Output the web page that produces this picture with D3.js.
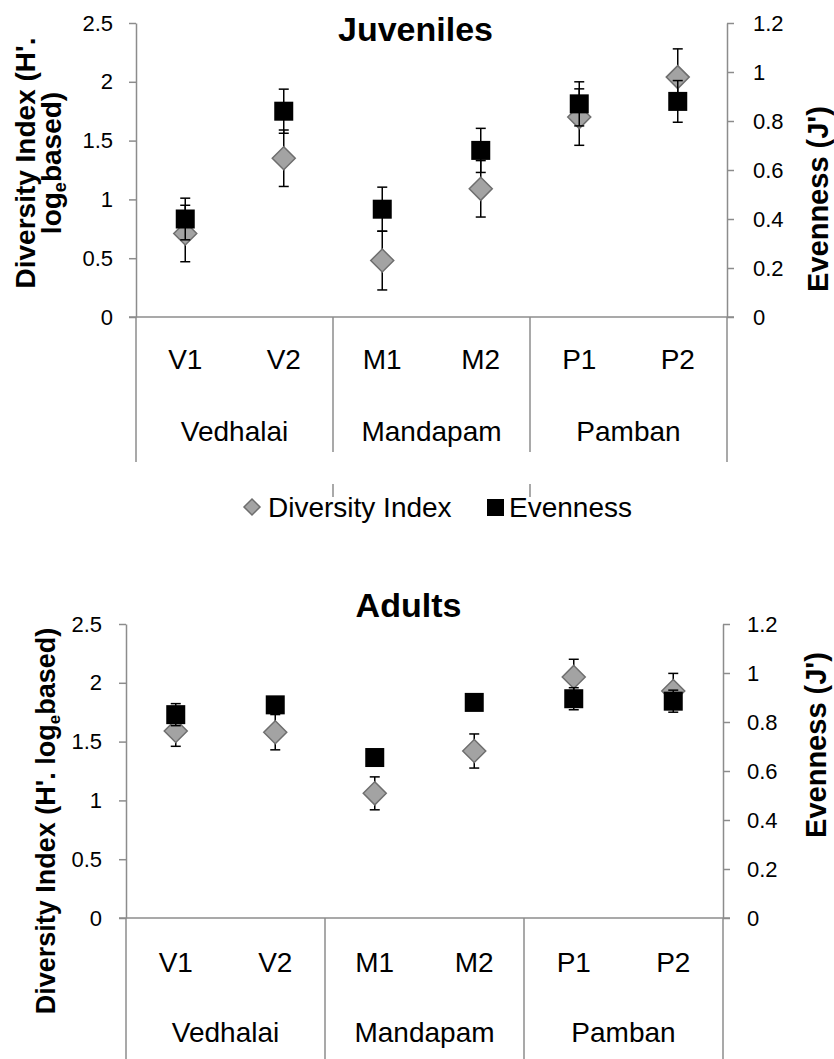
<!DOCTYPE html>
<html>
<head>
<meta charset="utf-8">
<script src="https://cdn.jsdelivr.net/npm/d3@7"></script>
<style>
  body { margin: 0; background: #fff; }
  svg { display: block; }
  text { font-family: "Liberation Sans", Arial, sans-serif; fill: #000; }
</style>
</head>
<body>
<svg id="chart" width="834" height="1059"></svg>
<script>
// Sampling sites and the localities they belong to
const sites = ["V1", "V2", "M1", "M2", "P1", "P2"];
const groups = ["Vedhalai", "Mandapam", "Pamban"];

// Axis tick values
const diversityTicks = [0, 0.5, 1, 1.5, 2, 2.5];
const evennessTicks = [0, 0.2, 0.4, 0.6, 0.8, 1, 1.2];

// Juveniles: Shannon diversity (H') and evenness (J') with error bars
const juvDiversity    = [0.71, 1.35, 0.48, 1.09, 1.70, 2.04];
const juvDiversityErr = [0.24, 0.24, 0.25, 0.24, 0.24, 0.24];
const juvEvenness     = [0.40, 0.84, 0.44, 0.68, 0.87, 0.88];
const juvEvennessErr  = [0.085, 0.09, 0.09, 0.09, 0.09, 0.085];

// Adults
const adultDiversity    = [1.59, 1.58, 1.06, 1.42, 2.05, 1.93];
const adultDiversityErr = [0.13, 0.15, 0.14, 0.145, 0.15, 0.15];
const adultEvenness     = [0.83, 0.87, 0.655, 0.88, 0.895, 0.885];
const adultEvennessErr  = [0.045, 0.03, 0.02, 0.03, 0.045, 0.045];

const legendItems = ["Diversity Index", "Evenness"];

const AXIS = "#8c8c8c";
const DIAMOND_FILL = "#a3a3a3";
const DIAMOND_STROKE = "#6e6e6e";

const panels = [
  {
    title: "Juveniles",
    div: juvDiversity, divErr: juvDiversityErr,
    even: juvEvenness, evenErr: juvEvennessErr,
    left: 136, right: 727, top: 23, bottom: 317,
    titleY: 41,
    siteY: 369, groupY: 441,
    outerEnd: 462, innerEnd: 452,
    yTitle: { x: 35, y: 163, lines: 2 },
    rTitle: { x: 828, y: 199 },
    leftPad: 16, rightPad: 19,
    legend: true
  },
  {
    title: "Adults",
    div: adultDiversity, divErr: adultDiversityErr,
    even: adultEvenness, evenErr: adultEvennessErr,
    left: 126, right: 723, top: 624, bottom: 918,
    titleY: 617,
    siteY: 972, groupY: 1042,
    outerEnd: 1059, innerEnd: 1059,
    yTitle: { x: 55, y: 821, lines: 1 },
    rTitle: { x: 826, y: 745 },
    leftPad: 17, rightPad: 17,
    legend: false
  }
];

const svg = d3.select("#chart");

function diamondPath(r) {
  return `M0,${-r}L${r},0L0,${r}L${-r},0Z`;
}

panels.forEach(p => {
  const g = svg.append("g");

  const x = d3.scaleBand().domain(sites).range([p.left, p.right]).paddingInner(0).paddingOuter(0);
  const groupX = d3.scaleBand().domain(groups).range([p.left, p.right]);
  const yDiv = d3.scaleLinear().domain([0, 2.5]).range([p.bottom, p.top]);
  const yEven = d3.scaleLinear().domain([0, 1.2]).range([p.bottom, p.top]);

  // Left axis (diversity)
  const la = g.append("g")
    .attr("transform", `translate(${p.left},0)`)
    .call(d3.axisLeft(yDiv).tickValues(diversityTicks).tickSize(7).tickSizeOuter(0)
      .tickPadding(p.leftPad).tickFormat(d3.format("")));
  // Right axis (evenness)
  const ra = g.append("g")
    .attr("transform", `translate(${p.right},0)`)
    .call(d3.axisRight(yEven).tickValues(evennessTicks).tickSize(7).tickSizeOuter(0)
      .tickPadding(p.rightPad).tickFormat(d3.format("")));
  [la, ra].forEach(a => {
    a.selectAll("path.domain").attr("stroke", AXIS).attr("stroke-width", 1.5);
    a.selectAll(".tick line").attr("stroke", AXIS).attr("stroke-width", 1.5);
    a.selectAll(".tick text")
      .style("font-family", '"Liberation Sans", Arial, sans-serif')
      .style("font-size", "22px").attr("fill", "#000");
  });

  // Category axis baseline
  g.append("line")
    .attr("x1", p.left - 7).attr("x2", p.right + 7)
    .attr("y1", yDiv(0)).attr("y2", yDiv(0))
    .attr("stroke", AXIS).attr("stroke-width", 1.5);

  // Group separators below the baseline
  const seps = [p.left].concat(groups.map(gname => groupX(gname) + groupX.bandwidth()));
  seps.forEach((sx, i) => {
    const outer = (i === 0 || i === seps.length - 1);
    g.append("line")
      .attr("x1", sx).attr("x2", sx)
      .attr("y1", yDiv(0)).attr("y2", outer ? p.outerEnd : p.innerEnd)
      .attr("stroke", AXIS).attr("stroke-width", 1.5);
    if (!outer && p.legend) {
      g.append("line")
        .attr("x1", sx).attr("x2", sx)
        .attr("y1", 484).attr("y2", 497)
        .attr("stroke", AXIS).attr("stroke-width", 1.5);
    }
  });

  // Site labels and locality labels
  g.selectAll("text.site").data(sites).join("text")
    .attr("class", "site")
    .attr("x", d => x(d) + x.bandwidth() / 2)
    .attr("y", p.siteY)
    .attr("text-anchor", "middle")
    .style("font-size", "28px")
    .text(d => d);
  g.selectAll("text.grp").data(groups).join("text")
    .attr("class", "grp")
    .attr("x", d => groupX(d) + groupX.bandwidth() / 2)
    .attr("y", p.groupY)
    .attr("text-anchor", "middle")
    .style("font-size", "28px")
    .text(d => d);

  // Title
  g.append("text")
    .attr("x", (p.left + p.right) / 2 - 16)
    .attr("y", p.titleY)
    .attr("text-anchor", "middle")
    .style("font-size", "34px").style("font-weight", "bold")
    .text(p.title);

  // Left axis title
  const lt = g.append("g").attr("transform", `translate(${p.yTitle.x},${p.yTitle.y}) rotate(-90)`);
  if (p.yTitle.lines === 2) {
    lt.append("text").attr("text-anchor", "middle").attr("y", 0)
      .style("font-size", "28px").style("font-weight", "bold")
      .text("Diversity Index (H'.");
    const t2 = lt.append("text").attr("text-anchor", "middle").attr("y", 26)
      .style("font-size", "28px").style("font-weight", "bold");
    t2.append("tspan").text("log");
    t2.append("tspan").attr("dy", 5).style("font-size", "18px").text("e");
    t2.append("tspan").attr("dy", -5).text("based)");
  } else {
    const t = lt.append("text").attr("text-anchor", "middle").attr("y", 0)
      .style("font-size", "27px").style("font-weight", "bold");
    t.append("tspan").text("Diversity Index (H'. log");
    t.append("tspan").attr("dy", 5).style("font-size", "17px").text("e");
    t.append("tspan").attr("dy", -5).text("based)");
  }

  // Right axis title
  svg.append("g").attr("transform", `translate(${p.rTitle.x},${p.rTitle.y}) rotate(-90)`)
    .append("text").attr("text-anchor", "middle")
    .style("font-size", "29px").style("font-weight", "bold")
    .text("Evenness (J')");

  const idx = d3.range(sites.length);
  const cx = i => x(sites[i]) + x.bandwidth() / 2;
  const cap = 5;

  // Diversity error bars and diamonds
  const dErr = g.append("g").attr("stroke", "#000").attr("stroke-width", 1.5);
  idx.forEach(i => {
    const y1 = yDiv(p.div[i] - p.divErr[i]), y2 = yDiv(p.div[i] + p.divErr[i]);
    dErr.append("line").attr("x1", cx(i)).attr("x2", cx(i)).attr("y1", y1).attr("y2", y2);
    [y1, y2].forEach(yy => dErr.append("line").attr("x1", cx(i) - cap).attr("x2", cx(i) + cap).attr("y1", yy).attr("y2", yy));
  });
  g.selectAll("path.div").data(idx).join("path")
    .attr("class", "div")
    .attr("d", diamondPath(11.5))
    .attr("transform", i => `translate(${cx(i)},${yDiv(p.div[i])})`)
    .attr("fill", DIAMOND_FILL).attr("stroke", DIAMOND_STROKE).attr("stroke-width", 1.5);

  // Evenness error bars and squares
  const eErr = g.append("g").attr("stroke", "#000").attr("stroke-width", 1.5);
  idx.forEach(i => {
    const y1 = yEven(p.even[i] - p.evenErr[i]), y2 = yEven(p.even[i] + p.evenErr[i]);
    eErr.append("line").attr("x1", cx(i)).attr("x2", cx(i)).attr("y1", y1).attr("y2", y2);
    [y1, y2].forEach(yy => eErr.append("line").attr("x1", cx(i) - cap).attr("x2", cx(i) + cap).attr("y1", yy).attr("y2", yy));
  });
  const sq = 19;
  g.selectAll("rect.even").data(idx).join("rect")
    .attr("class", "even")
    .attr("x", i => cx(i) - sq / 2)
    .attr("y", i => yEven(p.even[i]) - sq / 2)
    .attr("width", sq).attr("height", sq)
    .attr("fill", "#000");

  // Legend
  if (p.legend) {
    const lg = g.append("g");
    lg.append("path").attr("d", diamondPath(8))
      .attr("transform", "translate(252,507)")
      .attr("fill", DIAMOND_FILL).attr("stroke", DIAMOND_STROKE).attr("stroke-width", 1.5);
    lg.append("text").attr("x", 268).attr("y", 517).style("font-size", "28px").text(legendItems[0]);
    lg.append("rect").attr("x", 487).attr("y", 499).attr("width", 17).attr("height", 17).attr("fill", "#000");
    lg.append("text").attr("x", 509).attr("y", 517).style("font-size", "28px").text(legendItems[1]);
  }
});
</script>
</body>
</html>
